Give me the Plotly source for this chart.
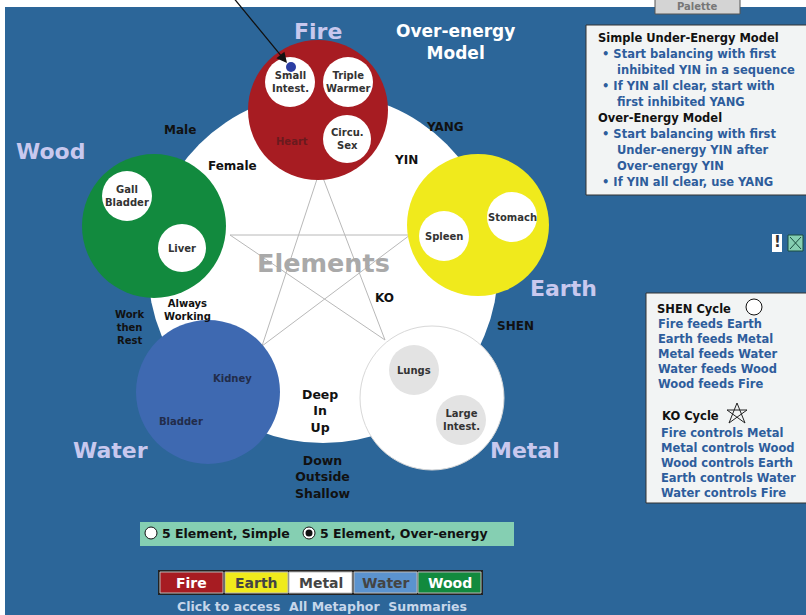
import plotly.graph_objects as go

W, H = 806, 615
BG = "#2c6699"
FONT = "DejaVu Sans"

# ---------------- data ----------------
elements = ["Fire", "Earth", "Metal", "Water", "Wood"]
element_colors = ["#a71c22", "#f0ea1c", "#ffffff", "#3e69b1", "#128a3e"]
element_label_color = "#c8c8ee"

fire_organs = ["Small<br>Intest.", "Triple<br>Warmer", "Circu.<br>Sex", "Heart"]
earth_organs = ["Stomach", "Spleen"]
metal_organs = ["Lungs", "Large<br>Intest."]
water_organs = ["Kidney", "Bladder"]
wood_organs = ["Gall<br>Bladder", "Liver"]

ko_pairs = [("Fire", "Metal"), ("Metal", "Wood"), ("Wood", "Earth"),
            ("Earth", "Water"), ("Water", "Fire")]

simple_model_title = "Simple Under-Energy Model"
simple_model_lines = ["• Start balancing with first", "   inhibited YIN in a sequence",
                      "• If YIN all clear, start with", "   first inhibited YANG"]
over_model_title = "Over-Energy Model"
over_model_lines = ["• Start balancing with first", "   Under-energy YIN after",
                    "   Over-energy YIN", "• If YIN all clear, use YANG"]

shen_lines = ["Fire feeds Earth", "Earth feeds Metal", "Metal feeds Water",
              "Water feeds Wood", "Wood feeds Fire"]
ko_lines = ["Fire controls Metal", "Metal controls Wood", "Wood controls Earth",
            "Earth controls Water", "Water controls Fire"]

radio_options = ["5 Element, Simple", "5 Element, Over-energy"]
button_labels = ["Fire", "Earth", "Metal", "Water", "Wood"]
button_fills = ["#a71c22", "#f0ea1c", "#ffffff", "#5b93cf", "#128a3e"]
button_text_colors = ["#ffffff", "#444444", "#444444", "#444444", "#ffffff"]
footer_text = "Click to access  All Metaphor  Summaries"

# ---------------- layout geometry ----------------
big_center, big_r = (323, 268), 175
elem_center = {"Fire": (318, 110), "Earth": (478, 225), "Metal": (432, 398),
               "Water": (208, 392), "Wood": (154, 226)}
elem_r = {"Fire": 70, "Earth": 71, "Metal": 72, "Water": 72, "Wood": 72}
star_vertex = {"Fire": (320, 170), "Earth": (410, 235), "Metal": (385, 340),
               "Water": (262, 346), "Wood": (230, 235)}
elem_label_pos = {"Fire": (318, 31), "Earth": (563, 288), "Metal": (525, 450),
                  "Water": (110, 450), "Wood": (50, 151)}

organ_layout = {
    "Fire": [((290, 82), 25, "#ffffff"), ((348, 82), 25, "#ffffff"),
             ((347, 139), 24, "#ffffff"), ((292, 141), 0, None)],
    "Earth": [((512, 217), 25, "#ffffff"), ((444, 236), 25, "#ffffff")],
    "Metal": [((414, 370), 25, "#e3e3e3"), ((461, 420), 25, "#e3e3e3")],
    "Water": [((232, 378), 0, None), ((181, 421), 0, None)],
    "Wood": [((127, 196), 25, "#ffffff"), ((182, 248), 24, "#ffffff")],
}
organ_text_color = {"Fire": ["#333", "#333", "#333", "#6a1a1e"],
                    "Earth": ["#333", "#333"], "Metal": ["#333", "#333"],
                    "Water": ["#222c4a", "#222c4a"], "Wood": ["#333", "#333"]}
organs = {"Fire": fire_organs, "Earth": earth_organs, "Metal": metal_organs,
          "Water": water_organs, "Wood": wood_organs}

shapes = []
annotations = []


def circle(cx, cy, r, fill, line_color=None, lw=0):
    shapes.append(dict(type="circle", xref="x", yref="y",
                       x0=cx - r, x1=cx + r, y0=cy - r, y1=cy + r,
                       fillcolor=fill, line=dict(color=line_color or fill, width=lw)))


def rect(x0, y0, x1, y1, fill, line_color=None, lw=0):
    shapes.append(dict(type="rect", xref="x", yref="y", x0=x0, x1=x1, y0=y0, y1=y1,
                       fillcolor=fill, line=dict(color=line_color or fill, width=lw)))


def text(x, y, s, size=11, color="#111", anchor="center", bold=True, font=FONT):
    annotations.append(dict(x=x, y=y, xref="x", yref="y", text=(f"<b>{s}</b>" if bold else s),
                            showarrow=False, xanchor=anchor, yanchor="middle",
                            font=dict(family=font, size=size, color=color),
                            align=anchor if anchor != "center" else "center"))


# page frame
rect(0, 0, W, 7, "#ffffff")
rect(0, 0, 5, H, "#ffffff")
# palette button
rect(655, -4, 740, 14, "#d4d4d4", "#555", 1)
text(697, 6, "Palette", 10, "#777")

# big white circle
circle(*big_center, big_r, "#ffffff")
# pentagram
for a, b in ko_pairs:
    (x0, y0), (x1, y1) = star_vertex[a], star_vertex[b]
    shapes.append(dict(type="line", xref="x", yref="y", x0=x0, y0=y0, x1=x1, y1=y1,
                       line=dict(color="#b8b8b8", width=1)))

# element circles
for name, col in zip(elements, element_colors):
    cx, cy = elem_center[name]
    circle(cx, cy, elem_r[name], col, "#d8d8d8" if name == "Metal" else col, 1 if name == "Metal" else 0)
    for (pos, r, fill), label, tcol in zip(organ_layout[name], organs[name], organ_text_color[name]):
        if r:
            circle(pos[0], pos[1], r, fill)
        text(pos[0], pos[1], label, 10, tcol)
    lx, ly = elem_label_pos[name]
    text(lx, ly, name, 22, element_label_color)

# blue dot + arrow
circle(291, 67, 5, "#2b3ea3")
annotations.append(dict(x=287, y=63, xref="x", yref="y", ax=232, ay=-4, axref="x", ayref="y",
                        showarrow=True, arrowhead=2, arrowsize=1.6, arrowwidth=1.3,
                        arrowcolor="#111", text=""))

# labels around the wheel
text(323, 263, "Elements", 25.5, "#a9a9a9")
text(455, 42, "Over-energy<br>Model", 17, "#ffffff")
text(180, 130, "Male", 12, "#111")
text(232, 166, "Female", 12, "#111")
text(445, 127, "YANG", 12, "#111")
text(406, 160, "YIN", 12, "#111")
text(384, 298, "KO", 12, "#111")
text(515, 326, "SHEN", 12, "#111")
text(187, 310, "Always<br>Working", 10, "#111")
text(129, 327, "Work<br>then<br>Rest", 10, "#111")
text(320, 411, "Deep<br>In<br>Up", 12.5, "#111")
text(322, 477, "Down<br>Outside<br>Shallow", 12.5, "#111")

BOX_SIZE = 11.5
# right box 1
rect(586, 25, 812, 195, "#f2f4f4", "#333", 1)
text(596, 38, simple_model_title, BOX_SIZE, "#111", "left")
y = 54
for s in simple_model_lines:
    text(600 if s.startswith("•") else 615, y, s.strip(), BOX_SIZE, "#2e5d9c", "left")
    y += 16
text(596, 118, over_model_title, BOX_SIZE, "#111", "left")
y = 134
for s in over_model_lines:
    text(600 if s.startswith("•") else 615, y, s.strip(), BOX_SIZE, "#2e5d9c", "left")
    y += 16

# icons
rect(772, 234, 782, 252, "#ffffff")
text(777, 242, "!", 15, "#333")
rect(788, 235, 803, 251, "#85cfb2", "#1a4d40", 1)
shapes.append(dict(type="line", x0=790, y0=237, x1=801, y1=249, line=dict(color="#1a4d40", width=1)))
shapes.append(dict(type="line", x0=801, y0=237, x1=790, y1=249, line=dict(color="#1a4d40", width=1)))

# right box 2
rect(646, 293, 812, 503, "#f2f4f4", "#333", 1)
text(655, 309, "SHEN Cycle", BOX_SIZE, "#111", "left")
circle(754, 307, 8, "#ffffff", "#111", 1)
for i, s in enumerate(shen_lines):
    text(656, 324 + 15 * i, s, BOX_SIZE, "#2e5d9c", "left")
text(660, 416, "KO Cycle", BOX_SIZE, "#111", "left")
star_pts = [(737, 403), (745, 423), (727, 410), (747, 410), (729, 423)]
for i in range(5):
    (x0, y0), (x1, y1) = star_pts[i], star_pts[(i + 1) % 5]
    shapes.append(dict(type="line", x0=x0, y0=y0, x1=x1, y1=y1, line=dict(color="#222", width=1)))
for i, s in enumerate(ko_lines):
    text(659, 433 + 15 * i, s, BOX_SIZE, "#2e5d9c", "left")

# radio bar
rect(140, 522, 514, 546, "#85cfb2")
circle(151, 533, 6, "#ffffff", "#111", 1)
text(160, 533, radio_options[0], 12.5, "#111", "left")
circle(309, 533, 6, "#ffffff", "#111", 1)
circle(309, 533, 3.5, "#111")
text(318, 533, radio_options[1], 12.5, "#111", "left")

# buttons
rect(158, 570, 483, 595, "#222222")
bx = [160, 225, 289, 354, 418]
for x0, lab, fill, tc in zip(bx, button_labels, button_fills, button_text_colors):
    rect(x0, 572, x0 + 63, 593, fill, "#bbbbbb", 1)
    text(x0 + 31.5, 583, lab, 14, tc)
text(322, 606, footer_text, 12.5, "#c6d6ea")

fig = go.Figure()
fig.add_trace(go.Scatter(x=[0, W], y=[0, H], mode="markers", marker=dict(opacity=0),
                         hoverinfo="skip", showlegend=False))
fig.update_layout(
    width=W, height=H, margin=dict(l=0, r=0, t=0, b=0),
    paper_bgcolor=BG, plot_bgcolor=BG,
    xaxis=dict(range=[0, W], visible=False, fixedrange=True),
    yaxis=dict(range=[H, 0], visible=False, fixedrange=True),
    shapes=shapes, annotations=annotations, showlegend=False,
)
fig.write_html("out.html", config={"displayModeBar": False},
               post_script="document.body.style.margin='0px';document.body.style.overflow='hidden';")
